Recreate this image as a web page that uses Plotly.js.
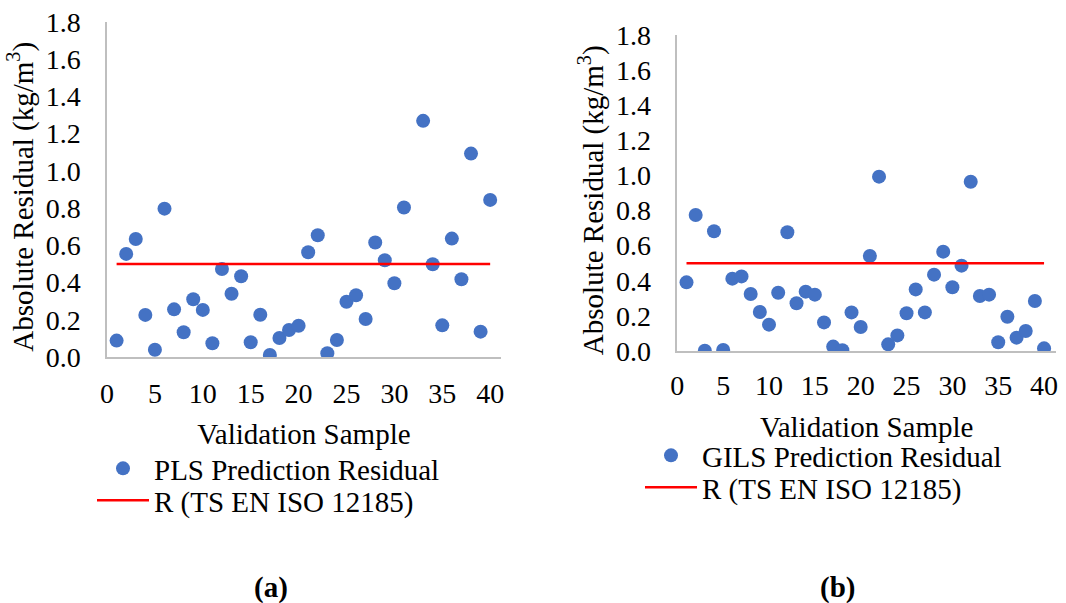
<!DOCTYPE html>
<html>
<head>
<meta charset="utf-8">
<script src="https://cdn.plot.ly/plotly-3.0.1.min.js"></script>
<style>html,body{margin:0;padding:0;background:#fff;}#chart{width:1066px;height:603px;}</style>
</head>
<body>
<div id="chart"></div>
<script>
// Panel (a): PLS
const samplesA = [1,2,3,4,5,6,7,8,9,10,11,12,13,14,15,16,17,18,19,20,21,22,23,24,25,26,27,28,29,30,31,32,33,34,35,36,37,38,39,40];
const plsResidual = [0.088,0.554,0.634,0.226,0.039,0.797,0.256,0.133,0.310,0.253,0.074,0.473,0.340,0.434,0.079,0.227,0.011,0.102,0.145,0.168,0.563,0.654,0.020,0.091,0.297,0.332,0.204,0.615,0.520,0.396,0.803,null,1.269,0.498,0.170,0.636,0.418,1.093,0.136,0.844];
// Panel (b): GILS
const samplesB = [1,2,3,4,5,6,7,8,9,10,11,12,13,14,15,16,17,18,19,20,21,22,23,24,25,26,27,28,29,30,31,32,33,34,35,36,37,38,39,40];
const gilsResidual = [0.391,0.775,0.002,0.682,0.006,0.412,0.425,0.325,0.222,0.150,0.332,0.676,0.272,0.338,0.321,0.163,0.025,0.004,0.220,0.137,0.541,0.993,0.038,0.089,0.215,0.351,0.220,0.435,0.566,0.363,0.486,0.964,0.313,0.321,0.050,0.195,0.076,0.114,0.285,0.015];
// Reproducibility limit R (TS EN ISO 12185)
const rLimitX = [1, 40];
const rLimitY = [0.5, 0.5];
const xTicks = [0,5,10,15,20,25,30,35,40];
const yTicks = [0,0.2,0.4,0.6,0.8,1.0,1.2,1.4,1.6,1.8];
const yTickText = ['0.0','0.2','0.4','0.6','0.8','1.0','1.2','1.4','1.6','1.8'];

const FONT = 'Liberation Serif';
const BLUE = '#4472C4';
const RED = '#FF0000';

const traces = [
  {x: samplesA, y: plsResidual, type:'scatter', mode:'markers', name:'PLS Prediction Residual',
   marker:{color:BLUE, size:14}, xaxis:'x', yaxis:'y', legend:'legend'},
  {x: rLimitX, y: rLimitY, type:'scatter', mode:'lines', name:'R (TS EN ISO 12185)',
   line:{color:RED, width:2.5}, xaxis:'x', yaxis:'y', legend:'legend2'},
  {x: samplesB, y: gilsResidual, type:'scatter', mode:'markers', name:'GILS Prediction Residual',
   marker:{color:BLUE, size:14}, xaxis:'x2', yaxis:'y2', legend:'legend3'},
  {x: rLimitX, y: rLimitY, type:'scatter', mode:'lines', name:'R (TS EN ISO 12185)',
   line:{color:RED, width:2.5}, xaxis:'x2', yaxis:'y2', legend:'legend4'}
];

function xAx(domain, range, anchor, lblOff, titleOff){
  return {domain:domain, range:range, anchor:anchor, tickvals:xTicks, ticks:'', showgrid:false, zeroline:false,
    showline:true, linecolor:'#bfbfbf', linewidth:1.5, ticklabelstandoff:lblOff,
    tickfont:{family:FONT, size:28, color:'#000'},
    title:{text:'Validation Sample', font:{family:FONT, size:29, color:'#000'}, standoff:titleOff}};
}
function yAx(domain, anchor){
  return {domain:domain, range:[0,1.8], anchor:anchor, tickvals:yTicks, ticktext:yTickText, ticks:'', showgrid:false, zeroline:false,
    showline:true, linecolor:'#bfbfbf', linewidth:1.5, ticklabelstandoff:19,
    tickfont:{family:FONT, size:28, color:'#000'},
    title:{text:'Absolute Residual (kg/m<sup>3</sup>)&nbsp;&nbsp;', font:{family:FONT, size:29, color:'#000'}, standoff:4}};
}
function leg(x, yTop){
  return {x:x/1066, y:1-yTop/603, xanchor:'left', yanchor:'top', bgcolor:'rgba(0,0,0,0)',
    font:{family:FONT, size:29, color:'#000'}, itemwidth:52};
}

const layout = {
  width:1066, height:603,
  margin:{l:0, r:0, t:0, b:0},
  paper_bgcolor:'#fff', plot_bgcolor:'#fff',
  showlegend:true,
  xaxis: xAx([0.1004,0.4697],[0,41.1],'y',11,15),
  yaxis: yAx([0.408,0.9635],'x'),
  xaxis2: xAx([0.6354,0.9906],[0,41.3],'y2',9,16),
  yaxis2: yAx([0.4179,0.942],'x2'),
  legend: leg(92, 443),
  legend2: leg(92, 475),
  legend3: leg(640, 430),
  legend4: leg(640, 462),
  annotations:[
    {text:'<b>(a)</b>', x:271/1066, y:1-587/603, xref:'paper', yref:'paper', xanchor:'center', yanchor:'middle', showarrow:false,
     font:{family:FONT, size:29, color:'#000'}},
    {text:'<b>(b)</b>', x:837/1066, y:1-587/603, xref:'paper', yref:'paper', xanchor:'center', yanchor:'middle', showarrow:false,
     font:{family:FONT, size:29, color:'#000'}}
  ]
};

Plotly.newPlot('chart', traces, layout, {displayModeBar:false, responsive:false});
</script>
</body>
</html>
